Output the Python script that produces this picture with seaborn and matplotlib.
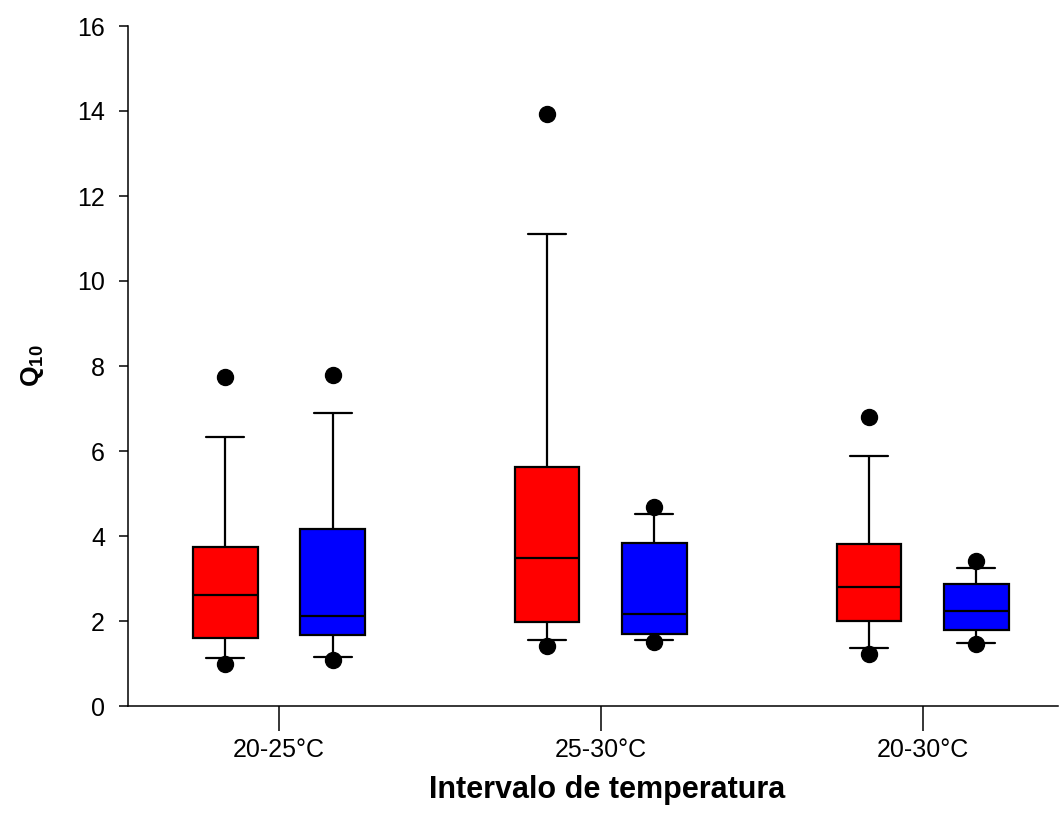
import numpy as np
import pandas as pd
import matplotlib
matplotlib.use('Agg')
import matplotlib.pyplot as plt
import seaborn as sns

sns.set_style('ticks')
plt.rcParams['font.family'] = ['Liberation Sans', 'DejaVu Sans']
plt.rcParams['mathtext.fontset'] = 'custom'
plt.rcParams['mathtext.rm'] = 'Liberation Sans'
plt.rcParams['mathtext.bf'] = 'Liberation Sans:bold'
plt.rcParams['text.color'] = 'black'
plt.rcParams['axes.labelcolor'] = 'black'
plt.rcParams['xtick.color'] = 'black'
plt.rcParams['ytick.color'] = 'black'
plt.rcParams['axes.edgecolor'] = 'black'

# datos (Q10 por intervalo de temperatura)
intervalos = ['20-25°C', '25-30°C', '20-30°C']
grupos = ['rojo', 'azul']
colores = {'rojo': '#ff0000', 'azul': '#0000ff'}

rojo_20_25 = [1.00, 1.12, 1.59, 2.10, 2.61, 3.20, 3.73, 6.34, 7.75]
azul_20_25 = [1.08, 1.16, 1.67, 1.90, 2.12, 3.00, 4.16, 6.90, 7.79]
rojo_25_30 = [1.42, 1.55, 1.97, 2.70, 3.48, 4.50, 5.63, 11.11, 13.92]
azul_25_30 = [1.51, 1.55, 1.69, 1.90, 2.16, 3.00, 3.83, 4.52, 4.69]
rojo_20_30 = [1.22, 1.37, 2.00, 2.40, 2.79, 3.30, 3.81, 5.88, 6.81]
azul_20_30 = [1.47, 1.49, 1.79, 2.00, 2.24, 2.50, 2.87, 3.24, 3.42]

series = {
    ('20-25°C', 'rojo'): rojo_20_25,
    ('20-25°C', 'azul'): azul_20_25,
    ('25-30°C', 'rojo'): rojo_25_30,
    ('25-30°C', 'azul'): azul_25_30,
    ('20-30°C', 'rojo'): rojo_20_30,
    ('20-30°C', 'azul'): azul_20_30,
}
rows = []
for (intervalo, grupo), vals in series.items():
    for v in vals:
        rows.append({'intervalo': intervalo, 'grupo': grupo, 'Q10': v})
df = pd.DataFrame(rows)

fig = plt.figure(figsize=(10.6, 8.13), dpi=100)
ax = fig.add_axes([128/1060, 1 - 706/813, 930/1060, 680/813])

sns.boxplot(data=df, x='intervalo', y='Q10', hue='grupo',
            order=intervalos, hue_order=grupos, palette=colores,
            saturation=1, width=0.666, gap=0.4, whis=(10, 90),
            linecolor='black', linewidth=1.6, fliersize=11.5,
            flierprops=dict(marker='o', markerfacecolor='black',
                            markeredgecolor='black'),
            capwidths=0.118, legend=False, ax=ax)

ax.set_ylim(0, 16)
ax.set_yticks(np.arange(0, 17, 2))
ax.set_xlim(-0.469, 2.42)
sns.despine(ax=ax)
for s in ['left', 'bottom']:
    ax.spines[s].set_linewidth(1.1)
    ax.spines[s].set_color('black')

ax.tick_params(axis='x', length=18, width=1.1, direction='out', labelsize=18, pad=5, color='black')
ax.tick_params(axis='y', length=6.5, width=1.1, direction='out', labelsize=18, pad=10, color='black')

ax.set_xlabel('Intervalo de temperatura', fontsize=22, fontweight='bold')
ax.set_ylabel(r'$\mathbf{Q_{10}}$', fontsize=19)
ax.xaxis.set_label_coords(0.515, -0.1015)
ax.yaxis.set_label_coords(-0.088, 0.5)

fig.savefig('out.png', dpi=100)
